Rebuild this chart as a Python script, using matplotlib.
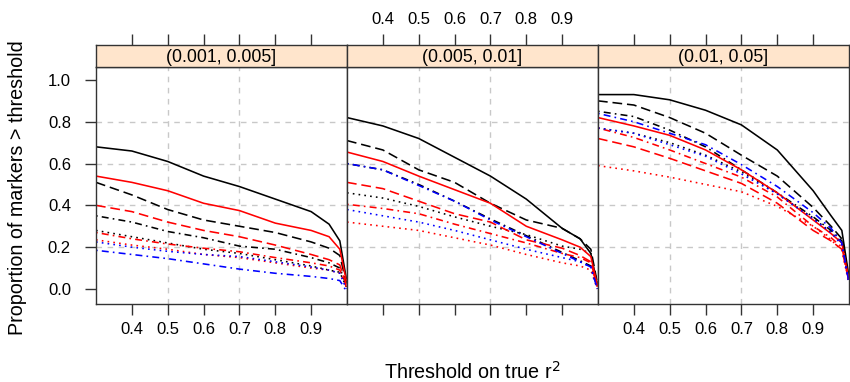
import matplotlib
matplotlib.use("Agg")
import matplotlib.pyplot as plt
import numpy as np

plt.rcParams['font.family'] = ['Liberation Sans', 'DejaVu Sans']
plt.rcParams['lines.scale_dashes'] = False

# ---------------- data ----------------
thresholds = [0.3, 0.4, 0.5, 0.6, 0.7, 0.8, 0.9, 0.95, 0.98, 0.998]
panel_labels = ["(0.001, 0.005]", "(0.005, 0.01]", "(0.01, 0.05]"]
x_ticks = [0.4, 0.5, 0.6, 0.7, 0.8, 0.9]
y_ticks = [0.0, 0.2, 0.4, 0.6, 0.8, 1.0]

series_names = ["black_solid", "black_dashed", "black_dashdot", "black_dotted",
                "red_solid", "red_dashed", "red_dashdot", "red_dotted",
                "blue_dashdot", "blue_dotted"]

p1_black_solid   = [0.68, 0.66, 0.61, 0.54, 0.49, 0.43, 0.37, 0.31, 0.23, 0.05]
p1_black_dashed  = [0.51, 0.45, 0.38, 0.33, 0.30, 0.27, 0.225, 0.195, 0.16, 0.03]
p1_black_dashdot = [0.35, 0.32, 0.275, 0.245, 0.205, 0.19, 0.15, 0.125, 0.10, 0.02]
p1_black_dotted  = [0.28, 0.25, 0.22, 0.19, 0.17, 0.14, 0.11, 0.09, 0.08, 0.01]
p1_red_solid     = [0.54, 0.51, 0.47, 0.41, 0.375, 0.315, 0.28, 0.25, 0.19, 0.04]
p1_red_dashed    = [0.40, 0.37, 0.32, 0.28, 0.25, 0.21, 0.165, 0.14, 0.115, 0.02]
p1_red_dashdot   = [0.27, 0.24, 0.215, 0.195, 0.178, 0.15, 0.125, 0.11, 0.09, 0.01]
p1_red_dotted    = [0.235, 0.21, 0.19, 0.165, 0.15, 0.125, 0.10, 0.09, 0.075, 0.01]
p1_blue_dashdot  = [0.185, 0.165, 0.145, 0.12, 0.095, 0.075, 0.06, 0.05, 0.04, -0.01]
p1_blue_dotted   = [0.225, 0.20, 0.18, 0.165, 0.155, 0.13, 0.105, 0.09, 0.075, 0.0]

p2_black_solid   = [0.82, 0.78, 0.72, 0.63, 0.54, 0.43, 0.29, 0.24, 0.17, 0.02]
p2_black_dashed  = [0.71, 0.665, 0.57, 0.51, 0.41, 0.33, 0.29, 0.24, 0.19, 0.03]
p2_black_dashdot = [0.60, 0.57, 0.50, 0.42, 0.335, 0.255, 0.175, 0.135, 0.11, 0.01]
p2_black_dotted  = [0.46, 0.435, 0.395, 0.345, 0.30, 0.26, 0.205, 0.19, 0.17, 0.02]
p2_red_solid     = [0.655, 0.61, 0.54, 0.475, 0.41, 0.30, 0.235, 0.20, 0.155, 0.02]
p2_red_dashed    = [0.51, 0.48, 0.42, 0.36, 0.32, 0.235, 0.195, 0.16, 0.13, 0.01]
p2_red_dashdot   = [0.405, 0.385, 0.36, 0.31, 0.265, 0.22, 0.17, 0.15, 0.125, 0.01]
p2_red_dotted    = [0.32, 0.30, 0.28, 0.245, 0.21, 0.165, 0.125, 0.11, 0.09, 0.0]
p2_blue_dashdot  = [0.60, 0.57, 0.495, 0.42, 0.33, 0.25, 0.17, 0.13, 0.105, 0.0]
p2_blue_dotted   = [0.38, 0.35, 0.32, 0.28, 0.235, 0.19, 0.15, 0.13, 0.105, 0.0]

p3_black_solid   = [0.93, 0.93, 0.905, 0.855, 0.785, 0.665, 0.47, 0.35, 0.28, 0.08]
p3_black_dashed  = [0.90, 0.88, 0.82, 0.745, 0.64, 0.54, 0.39, 0.30, 0.24, 0.07]
p3_black_dashdot = [0.85, 0.825, 0.76, 0.68, 0.57, 0.46, 0.345, 0.28, 0.23, 0.06]
p3_black_dotted  = [0.77, 0.745, 0.70, 0.64, 0.56, 0.455, 0.34, 0.27, 0.22, 0.05]
p3_red_solid     = [0.82, 0.78, 0.735, 0.665, 0.57, 0.46, 0.33, 0.265, 0.22, 0.06]
p3_red_dashed    = [0.72, 0.68, 0.625, 0.565, 0.505, 0.41, 0.28, 0.23, 0.19, 0.05]
p3_red_dashdot   = [0.77, 0.725, 0.665, 0.60, 0.535, 0.44, 0.30, 0.245, 0.20, 0.05]
p3_red_dotted    = [0.59, 0.565, 0.535, 0.50, 0.465, 0.395, 0.30, 0.235, 0.185, 0.04]
p3_blue_dashdot  = [0.84, 0.80, 0.745, 0.69, 0.595, 0.49, 0.365, 0.29, 0.22, 0.05]
p3_blue_dotted   = [0.77, 0.745, 0.69, 0.635, 0.55, 0.455, 0.335, 0.27, 0.21, 0.04]

panels = [
    [p1_black_solid, p1_black_dashed, p1_black_dashdot, p1_black_dotted,
     p1_red_solid, p1_red_dashed, p1_red_dashdot, p1_red_dotted,
     p1_blue_dashdot, p1_blue_dotted],
    [p2_black_solid, p2_black_dashed, p2_black_dashdot, p2_black_dotted,
     p2_red_solid, p2_red_dashed, p2_red_dashdot, p2_red_dotted,
     p2_blue_dashdot, p2_blue_dotted],
    [p3_black_solid, p3_black_dashed, p3_black_dashdot, p3_black_dotted,
     p3_red_solid, p3_red_dashed, p3_red_dashdot, p3_red_dotted,
     p3_blue_dashdot, p3_blue_dotted],
]

# ---------------- styles ----------------
DASHED = (0, (7, 3.5))
DASHDOT = (0, (1.2, 3, 5, 3))
DOTTED = (0, (1.2, 3))
styles = {
    "black_solid": ("black", "-"), "black_dashed": ("black", DASHED),
    "black_dashdot": ("black", DASHDOT), "black_dotted": ("black", DOTTED),
    "red_solid": ("#FF0000", "-"), "red_dashed": ("#FF0000", DASHED),
    "red_dashdot": ("#FF0000", DASHDOT), "red_dotted": ("#FF0000", DOTTED),
    "blue_dashdot": ("#0000FF", DASHDOT), "blue_dotted": ("#0000FF", DOTTED),
}

W, H = 850, 382
fig = plt.figure(figsize=(W / 100, H / 100), dpi=100)

p_left0 = 96
p_w = 251
p_top = 67
p_bot = 304
s_top = 45

XLIM = (0.3, 1.0)
YLIM = (-0.072, 1.062)
frame_col = "#333333"

for i, (label, data) in enumerate(zip(panel_labels, panels)):
    left = (p_left0 + i * p_w) / W
    ax = fig.add_axes([left, 1 - p_bot / H, p_w / W, (p_bot - p_top) / H])
    ax.set_xlim(*XLIM)
    ax.set_ylim(*YLIM)
    for xv in [0.5, 0.7]:
        ax.axvline(xv, color="#C8C8C8", lw=1.0, ls=(0, (4, 4)), zorder=0)
    for yv in [0.2, 0.4, 0.6, 0.8]:
        ax.axhline(yv, color="#C8C8C8", lw=1.0, ls=(0, (4, 4)), zorder=0)
    for name, vals in zip(series_names, data):
        col, ls = styles[name]
        ax.plot(thresholds, vals, color=col, ls=ls, lw=1.15, clip_on=True)
    for sp in ax.spines.values():
        sp.set_color(frame_col)
        sp.set_linewidth(1.0)
    ax.set_xticks(x_ticks)
    ax.tick_params(axis="x", direction="out", length=8, width=1, color=frame_col,
                   labelsize=12, pad=5)
    if i == 1:
        ax.tick_params(axis="x", labelbottom=False)
    else:
        ax.set_xticklabels([f"{v:.1f}" for v in x_ticks])
    if i == 0:
        ax.set_yticks(y_ticks)
        ax.set_yticklabels([f"{v:.1f}" for v in y_ticks])
        ax.tick_params(axis="y", direction="out", length=8, width=1, color=frame_col,
                       labelsize=12, pad=10)
    else:
        ax.set_yticks([])

    # strip
    sax = fig.add_axes([left, 1 - p_top / H, p_w / W, (p_top - s_top) / H])
    sax.set_facecolor("#FFE5CC")
    sax.set_xlim(*XLIM)
    sax.set_ylim(0, 1)
    sax.set_yticks([])
    sax.set_xticks(x_ticks)
    sax.xaxis.tick_top()
    sax.tick_params(axis="x", direction="out", length=8, width=1, color=frame_col,
                    labelsize=12, pad=5, labeltop=(i == 1))
    if i == 1:
        sax.set_xticklabels([f"{v:.1f}" for v in x_ticks])
    else:
        sax.set_xticklabels([])
    for sp in sax.spines.values():
        sp.set_color(frame_col)
        sp.set_linewidth(1.0)
    sax.text(0.5, 0.45, label, transform=sax.transAxes, ha="center", va="center",
             fontsize=12.8)

fig.text(18 / W, 1 - 188 / H, "Proportion of markers > threshold", rotation=90,
         ha="center", va="center", fontsize=14.2)
fig.text(472 / W, 1 - 372 / H, "Threshold on true r$^2$", ha="center", va="center",
         fontsize=14.2)

fig.savefig("out.png", dpi=100)
